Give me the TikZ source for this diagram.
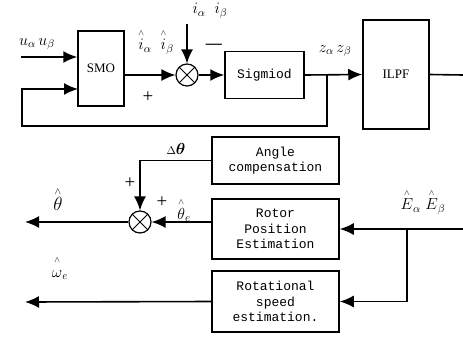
\RequirePackage{fix-cm}
\documentclass[tikz,border=0pt]{standalone}
\usepackage{amsmath}
\usepackage{fontspec}
\setmainfont{Liberation Serif}
\setmonofont{Liberation Mono}
\usetikzlibrary{arrows.meta,positioning}
\newcommand{\hatc}[1]{\overset{\scriptscriptstyle\wedge}{#1}}
\tikzset{blk/.style={draw,line width=1.5pt,align=center,inner sep=0pt,font=\fontsize{13}{15}\selectfont}, mblk/.style={blk,font=\ttfamily\fontsize{13}{15.5}\selectfont}, sumc/.style={circle,draw,line width=1.2pt,minimum size=22pt,inner sep=0pt,path picture={\draw[line width=1pt] (path picture bounding box.north west)--(path picture bounding box.south east) (path picture bounding box.north east)--(path picture bounding box.south west);}}, arrow/.style={-{Latex[length=14pt,width=12pt]},line width=1.6pt}, wire/.style={line width=1.6pt}, lbl/.style={inner sep=0pt,font=\fontsize{16}{18}\selectfont}, sgn/.style={inner sep=0pt,font=\fontsize{19}{21}\selectfont}}

\begin{document}
\begin{tikzpicture}[x=1pt,y=-1pt]
\useasboundingbox (0,0) rectangle (463,338);
% upper loop
\node[blk,minimum width=46pt,minimum height=75pt] (smo) at (101,68.5) {SMO};
\node[sumc] (sum1) at (187,75) {};
\node[mblk,minimum width=79pt,minimum height=47pt] (sig) at (264.5,75) {Sigmiod};
\node[blk,minimum width=66pt,minimum height=109pt] (ilpf) at (396,74.5) {ILPF};
\coordinate (uin) at (21,57);
\coordinate (itop) at (187,24);
\coordinate (fb) at (327,75);
\coordinate (fbl) at (22,126);
\coordinate (fbin) at (78,89);
\coordinate (outr) at (463,75);
\draw[arrow] (uin) -- (uin -| smo.west);
\draw[arrow] (fb) |- (fbl) |- (fbin);
\draw[arrow] (smo.east |- sum1) -- (sum1.west);
\draw[arrow] (itop) -- (sum1.north);
\foreach \src/\dst in {sum1/sig,sig/ilpf}{\draw[arrow] (\src.east) -- (\dst.west);}
\draw[wire] (ilpf.east) -- (outr);
\node[lbl] (uab) at (37,44) {$u_\alpha\,u_\beta$};
\node[lbl] (ihat) at (156,42) {$\hatc{i}_\alpha\;\;\hatc{i}_\beta$};
\node[lbl] (iab) at (210,11) {$i_\alpha\;\;i_\beta$};
\node[lbl] (minus) at (214,46) {\textbf{—}};
\node[sgn] (plus1) at (148,97) {+};
\node[lbl] (zab) at (335,51) {$z_\alpha\,z_\beta$};
% lower part
\node[mblk,minimum width=127pt,minimum height=47pt] (ang) at (275.5,160.5) {Angle\\compensation};
\node[mblk,minimum width=127pt,minimum height=60pt] (rpe) at (275.5,229) {Rotor\\Position\\Estimation};
\node[mblk,minimum width=127pt,minimum height=61pt] (rse) at (275.5,301.5) {Rotational\\speed\\estimation.};
\node[sumc] (sum2) at (140,222) {};
\coordinate (ein) at (463,229);
\coordinate (br) at (407,229);
\coordinate (thout) at (25,222);
\coordinate (wout) at (25,302);
\draw[arrow] (ein) -- (rpe.east |- ein);
\draw[arrow] (br) |- (rse.east);
\draw[arrow] (ang.west) -| (sum2.north);
\draw[arrow] (rpe.west |- sum2) -- (sum2.east);
\draw[arrow] (sum2.west) -- (thout);
\draw[arrow] (rse.west) -- (wout);
\node[lbl] (dth) at (176,149) {${\scriptstyle\Delta}\boldsymbol{\theta}$};
\node[sgn] (plus2) at (130,183) {+};
\node[sgn] (plus3) at (162,202) {+};
\node[lbl] (the) at (184,210) {$\hatc{\theta}_e$};
\node[lbl,font=\fontsize{19}{21}\selectfont] (th) at (58,199) {$\hatc{\theta}$};
\node[lbl] (we) at (60,268) {$\hatc{\vphantom{\theta}\omega}_e$};
\node[lbl] (eab) at (423,202) {$\hatc{E}_\alpha\;\hatc{E}_\beta$};
\end{tikzpicture}
\end{document}
